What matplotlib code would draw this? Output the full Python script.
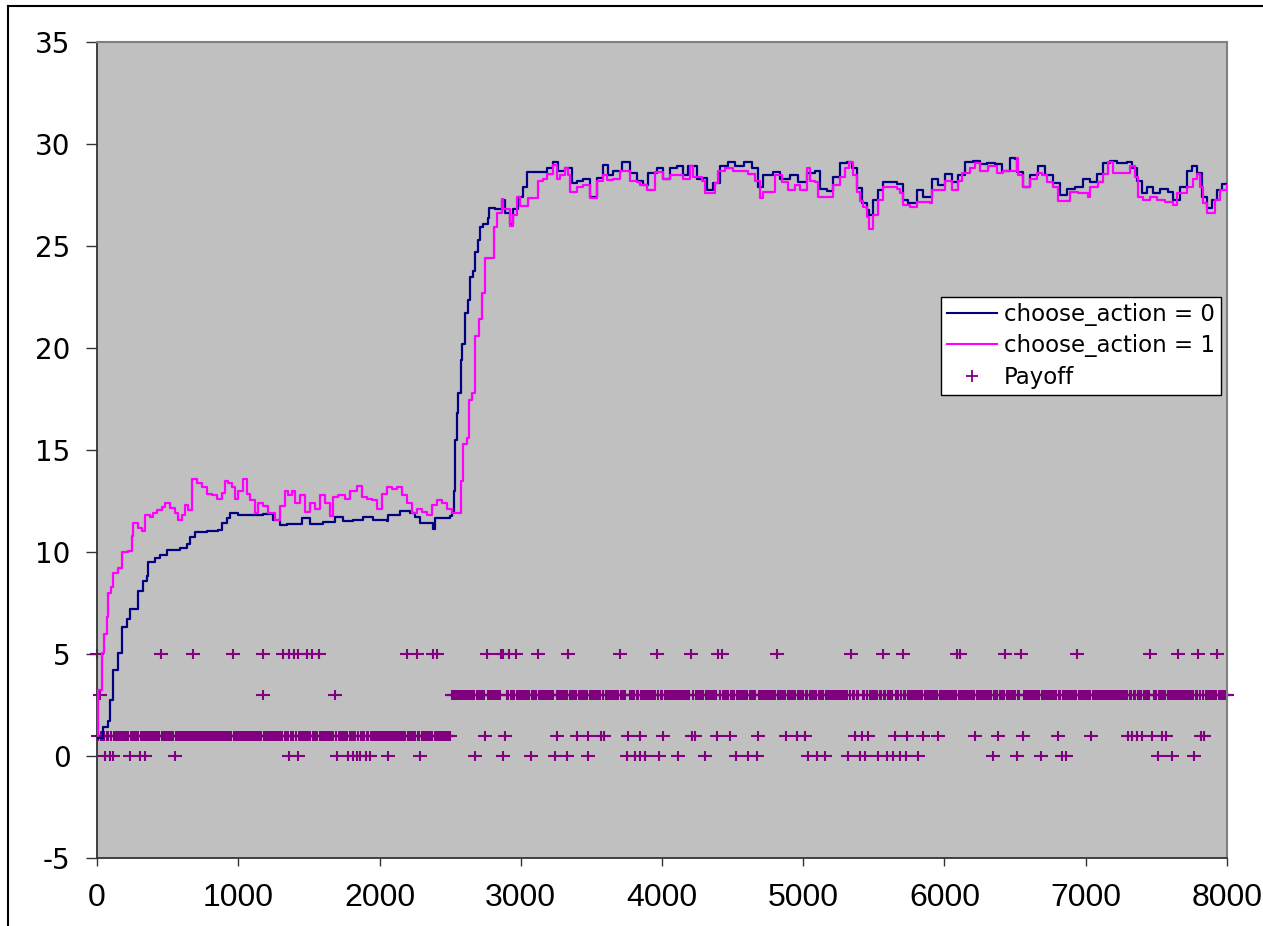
import matplotlib
matplotlib.use("Agg")
import matplotlib.pyplot as plt
from matplotlib.lines import Line2D
from matplotlib.path import Path

# moving average of reward when each action is chosen (time, value)
action0_pts = [
    (0, 0.9), (45, 1.4), (80, 1.7), (92, 2.75), (111, 4.2), (151, 5.05), (175, 6.3),
    (210, 6.7), (234, 7.2), (269, 7.2), (293, 8.1), (328, 8.6), (352, 8.8), (364, 9.5),
    (411, 9.7), (446, 9.85), (493, 10.1), (588, 10.2), (635, 10.4), (658, 10.75),
    (694, 11.0), (776, 11.05), (859, 11.1), (883, 11.4), (918, 11.65), (942, 11.9),
    (1000, 11.8), (1107, 11.8), (1178, 11.85), (1249, 11.55), (1296, 11.3), (1343, 11.35),
    (1437, 11.35), (1449, 11.65), (1508, 11.35), (1602, 11.45), (1685, 11.7), (1744, 11.5),
    (1815, 11.55), (1885, 11.7), (1956, 11.55), (2050, 11.5), (2057, 11.8), (2145, 12.0),
    (2216, 11.9), (2251, 11.7), (2287, 11.4), (2381, 11.15), (2393, 11.65), (2440, 11.65),
    (2499, 11.75), (2511, 11.9), (2528, 13.0), (2535, 15.5), (2547, 16.8), (2558, 17.8),
    (2575, 19.4), (2582, 20.2), (2605, 21.7), (2629, 22.35), (2641, 23.5), (2664, 23.75),
    (2676, 24.7), (2700, 25.3), (2711, 25.95), (2735, 26.1), (2770, 26.35), (2777, 26.85),
    (2817, 26.8), (2865, 27.25), (2888, 26.6), (2924, 26.1), (2947, 26.8), (2983, 27.4),
    (3018, 27.9), (3046, 28.65), (3089, 28.65), (3136, 28.65), (3183, 28.8), (3230, 29.1),
    (3266, 28.7), (3313, 28.8), (3360, 28.1), (3395, 28.2), (3443, 28.3), (3490, 27.4),
    (3537, 28.35), (3584, 28.95), (3620, 28.5), (3655, 28.7), (3714, 29.1), (3773, 28.6),
    (3820, 28.2), (3867, 28.0), (3903, 28.6), (3962, 28.8), (4009, 28.3), (4056, 28.8),
    (4104, 28.9), (4151, 28.5), (4186, 28.9), (4245, 28.3), (4292, 28.35), (4316, 27.75),
    (4363, 28.1), (4411, 28.9), (4470, 29.1), (4517, 28.9), (4577, 29.1), (4636, 28.8),
    (4682, 27.9), (4718, 28.5), (4789, 28.65), (4836, 28.3), (4907, 28.5), (4966, 28.15),
    (5025, 28.6), (5083, 28.7), (5119, 27.8), (5166, 27.7), (5214, 28.4), (5260, 29.05),
    (5307, 29.1), (5343, 28.8), (5378, 27.85), (5414, 27.1), (5449, 26.75), (5467, 26.5),
    (5496, 27.25), (5531, 27.75), (5567, 28.15), (5614, 28.15), (5661, 28.05), (5708, 27.25),
    (5744, 27.1), (5803, 27.75), (5850, 27.4), (5909, 28.3), (5956, 28.0), (6003, 28.55),
    (6050, 28.15), (6097, 28.5), (6145, 29.1), (6204, 29.15), (6251, 29.0), (6298, 29.05),
    (6357, 29.0), (6404, 28.7), (6464, 29.3), (6499, 29.25), (6511, 28.65), (6558, 27.9),
    (6605, 28.5), (6664, 28.9), (6711, 28.5), (6770, 28.1), (6818, 27.5), (6865, 27.8),
    (6924, 27.9), (6983, 28.3), (7030, 28.15), (7078, 28.55), (7125, 29.05), (7172, 29.15),
    (7219, 29.05), (7290, 29.1), (7325, 28.8), (7361, 28.2), (7396, 27.6), (7432, 27.9),
    (7479, 27.6), (7526, 27.8), (7585, 27.65), (7620, 27.25), (7668, 27.9), (7715, 28.7),
    (7750, 28.9), (7786, 28.6), (7821, 27.4), (7856, 26.85), (7892, 27.25), (7927, 27.75),
    (7962, 28.05), (8000, 28.05),
]

action1_pts = [
    (0, 1.0), (9, 3.25), (33, 5.05), (50, 6.0), (69, 6.8), (80, 8.0), (97, 8.3), (111, 8.95),
    (151, 9.2), (175, 10.0), (222, 10.05), (245, 10.8), (257, 11.4), (293, 11.2), (316, 11.05),
    (340, 11.8), (375, 11.7), (399, 11.9), (422, 12.05), (458, 12.2), (481, 12.4), (517, 12.15),
    (552, 11.9), (576, 11.55), (599, 11.8), (623, 12.3), (647, 12.05), (670, 13.6), (705, 13.4),
    (741, 13.2), (776, 12.85), (812, 12.8), (847, 12.6), (883, 12.9), (906, 13.5), (930, 13.4),
    (953, 13.2), (977, 12.6), (1000, 13.0), (1031, 13.6), (1059, 12.85), (1083, 12.55),
    (1118, 11.9), (1142, 12.4), (1178, 12.25), (1213, 11.9), (1260, 11.55), (1296, 12.25),
    (1331, 13.0), (1355, 12.8), (1378, 13.0), (1402, 12.4), (1437, 12.8), (1473, 11.95),
    (1508, 12.4), (1543, 12.1), (1579, 12.8), (1614, 12.4), (1650, 11.75), (1673, 12.7),
    (1709, 12.8), (1756, 12.6), (1791, 13.0), (1838, 13.25), (1873, 12.7), (1909, 12.6),
    (1944, 12.55), (1980, 12.1), (2015, 12.85), (2050, 13.2), (2086, 13.1), (2121, 13.2),
    (2157, 12.8), (2192, 12.4), (2228, 11.9), (2263, 12.1), (2299, 11.95), (2334, 11.8),
    (2369, 12.3), (2405, 12.55), (2440, 12.4), (2476, 12.1), (2511, 11.9), (2558, 11.9),
    (2575, 13.5), (2594, 15.3), (2617, 15.6), (2636, 17.45), (2653, 17.8), (2676, 20.6),
    (2706, 21.4), (2723, 22.7), (2747, 24.4), (2794, 24.4), (2811, 25.95), (2830, 26.6),
    (2865, 27.3), (2877, 26.8), (2924, 26.0), (2947, 26.5), (2975, 27.4), (2995, 26.95),
    (3042, 26.95), (3054, 27.35), (3113, 27.35), (3124, 28.2), (3160, 28.3), (3183, 28.55),
    (3230, 28.95), (3254, 28.3), (3278, 28.5), (3313, 28.8), (3337, 28.5), (3349, 27.65),
    (3395, 27.9), (3443, 28.0), (3490, 27.35), (3537, 28.2), (3584, 28.5), (3608, 28.25),
    (3655, 28.3), (3703, 28.7), (3749, 28.7), (3773, 28.2), (3820, 28.15), (3844, 28.0),
    (3891, 27.75), (3938, 27.75), (3950, 28.65), (4009, 28.3), (4056, 28.5), (4115, 28.5),
    (4151, 28.3), (4198, 28.9), (4221, 28.4), (4280, 28.2), (4304, 27.6), (4351, 27.6),
    (4375, 28.1), (4398, 28.7), (4446, 28.8), (4505, 28.7), (4564, 28.7), (4611, 28.55),
    (4658, 28.2), (4694, 27.35), (4718, 27.65), (4777, 27.65), (4800, 28.5), (4848, 28.15),
    (4895, 27.75), (4942, 28.0), (4978, 27.75), (5025, 28.8), (5048, 28.2), (5083, 28.15),
    (5107, 27.4), (5190, 27.4), (5214, 28.0), (5260, 28.4), (5296, 28.8), (5326, 29.1),
    (5354, 28.5), (5378, 27.65), (5402, 27.2), (5425, 26.9), (5449, 26.4), (5467, 25.85),
    (5496, 26.5), (5531, 27.25), (5567, 27.9), (5614, 27.9), (5661, 27.8), (5685, 27.6),
    (5708, 27.0), (5756, 26.9), (5803, 27.15), (5850, 27.15), (5897, 27.1), (5909, 27.75),
    (5968, 27.75), (6003, 28.2), (6050, 27.75), (6097, 28.2), (6121, 28.6), (6180, 28.8),
    (6216, 29.05), (6251, 28.7), (6310, 28.9), (6369, 28.6), (6416, 28.7), (6464, 28.7),
    (6511, 29.3), (6522, 28.5), (6558, 27.9), (6605, 28.3), (6652, 28.6), (6688, 28.5),
    (6723, 28.15), (6770, 27.9), (6806, 27.2), (6853, 27.2), (6888, 27.65), (6947, 27.6),
    (7018, 27.4), (7030, 27.9), (7089, 28.15), (7125, 28.55), (7160, 29.1), (7196, 28.6),
    (7278, 28.6), (7314, 28.9), (7349, 28.4), (7373, 27.4), (7408, 27.25), (7455, 27.4),
    (7503, 27.25), (7562, 27.15), (7620, 27.0), (7644, 27.6), (7715, 27.9), (7762, 28.3),
    (7786, 28.55), (7809, 27.9), (7833, 27.1), (7856, 26.6), (7892, 26.6), (7915, 27.25),
    (7950, 27.75), (8000, 28.0),
]

# payoff is logged every record_step; usual payoff is 1 until switch_time, 3 after
record_step = 10
switch_time = 2510
last_time = 8000

# times where the logged payoff differs from the usual one
pay5_x = [0, 451, 677, 961, 1173, 1319, 1362, 1395, 1425, 1485, 1520, 1574, 2192, 2263,
          2381, 2405, 2759, 2860, 2877, 2917, 2964, 3125, 3337, 3703, 3962, 4203, 4399,
          4423, 4812, 5336, 5563, 5705, 6086, 6110, 6429, 6542, 6936, 7455, 7656, 7797, 7927]
pay3_x = [21, 1173, 1685]
pay1_x = [2747, 2889, 3254, 3396, 3479, 3568, 3592, 3762, 3844, 4010, 4210, 4234, 4387,
          4482, 4682, 4878, 4954, 5013, 5367, 5414, 5461, 5650, 5733, 5850, 5956, 6216,
          6381, 6554, 6802, 7035, 7302, 7330, 7361, 7396, 7471, 7538, 7566, 7816, 7840]
pay0_x = [57, 92, 111, 234, 304, 340, 552, 1362, 1425, 1697, 1780, 1815, 1839, 1862, 1905,
          1933, 2058, 2287, 2676, 2872, 3070, 3243, 3325, 3479, 3750, 3809, 3844, 3880,
          3979, 4116, 4305, 4524, 4611, 4671, 5036, 5095, 5154, 5319, 5402, 5437, 5532,
          5591, 5638, 5685, 5728, 5815, 6341, 6511, 6681, 6834, 6858, 7514, 7613, 7769]

x_ticks = list(range(0, 8001, 1000))
y_ticks = list(range(-5, 36, 5))

# payoff points: usual level where nothing else was logged
payoff_x, payoff_y = [], []
for vals, level in ((pay5_x, 5), (pay3_x, 3), (pay1_x, 1), (pay0_x, 0)):
    payoff_x += vals
    payoff_y += [level] * len(vals)
taken = {round(x / record_step) for x in payoff_x}
for i in range(last_time // record_step + 1):
    if i in taken:
        continue
    t = i * record_step
    payoff_x.append(t)
    payoff_y.append(1 if t < switch_time else 3)

W, H = 1263, 926
fig = plt.figure(figsize=(W / 100, H / 100), dpi=100)
ax = fig.add_axes([97 / W, 1 - 858 / H, (1227 - 97) / W, (858 - 42) / H])
ax.set_facecolor("#C0C0C0")

# wide plus sign like the spreadsheet marker
plus = Path([(-1.3, 0), (1.3, 0), (0, -1), (0, 1)],
            [Path.MOVETO, Path.LINETO, Path.MOVETO, Path.LINETO])

ax.plot(payoff_x, payoff_y, linestyle="none", marker=plus, markersize=9.5,
        markeredgewidth=1.5, color="#800080", clip_on=False, zorder=2)

x0, y0 = zip(*action0_pts)
x1, y1 = zip(*action1_pts)
ax.plot(x0, y0, color="#000080", linewidth=1.6, drawstyle="steps-post", zorder=3)
ax.plot(x1, y1, color="#FF00FF", linewidth=1.6, drawstyle="steps-post", zorder=4)

ax.set_xlim(0, 8000)
ax.set_ylim(-5, 35)
ax.set_xticks(x_ticks)
ax.set_yticks(y_ticks)
ax.set_xticklabels([str(v) for v in x_ticks], family="Liberation Sans", fontsize=23)
ax.set_yticklabels([str(v) for v in y_ticks], family="DejaVu Sans", fontsize=20)
ax.tick_params(axis="y", direction="out", length=8, width=1, pad=11, color="#333333")
ax.tick_params(axis="x", direction="out", length=6, width=1, pad=12, color="#333333")

for side in ("left", "bottom"):
    ax.spines[side].set_color("#333333")
    ax.spines[side].set_linewidth(1.3)
for side in ("top", "right"):
    ax.spines[side].set_color("#808080")
    ax.spines[side].set_linewidth(1.5)

handles = [
    Line2D([], [], color="#000080", linewidth=1.5),
    Line2D([], [], color="#FF00FF", linewidth=1.5),
    Line2D([], [], linestyle="none", marker="+", markersize=8, markeredgewidth=1.3,
           color="#800080"),
]
leg = ax.legend(handles, ["choose_action = 0", "choose_action = 1", "Payoff"],
                loc="upper left", bbox_to_anchor=(941 / W, 1 - 297 / H),
                bbox_transform=fig.transFigure, borderaxespad=0, fancybox=False,
                framealpha=1, edgecolor="black", handlelength=2.2,
                handletextpad=0.3, labelspacing=0.38, borderpad=0.25,
                prop={"family": "DejaVu Sans", "size": 16.5})
leg.get_frame().set_linewidth(1.0)

# outer chart border (left and top edges visible)
fig.add_artist(Line2D([8 / W, 8 / W], [0, 1 - 6 / H], color="black", linewidth=1.5))
fig.add_artist(Line2D([8 / W, 1], [1 - 6 / H, 1 - 6 / H], color="black", linewidth=1.5))

fig.savefig("out.png", dpi=100)
